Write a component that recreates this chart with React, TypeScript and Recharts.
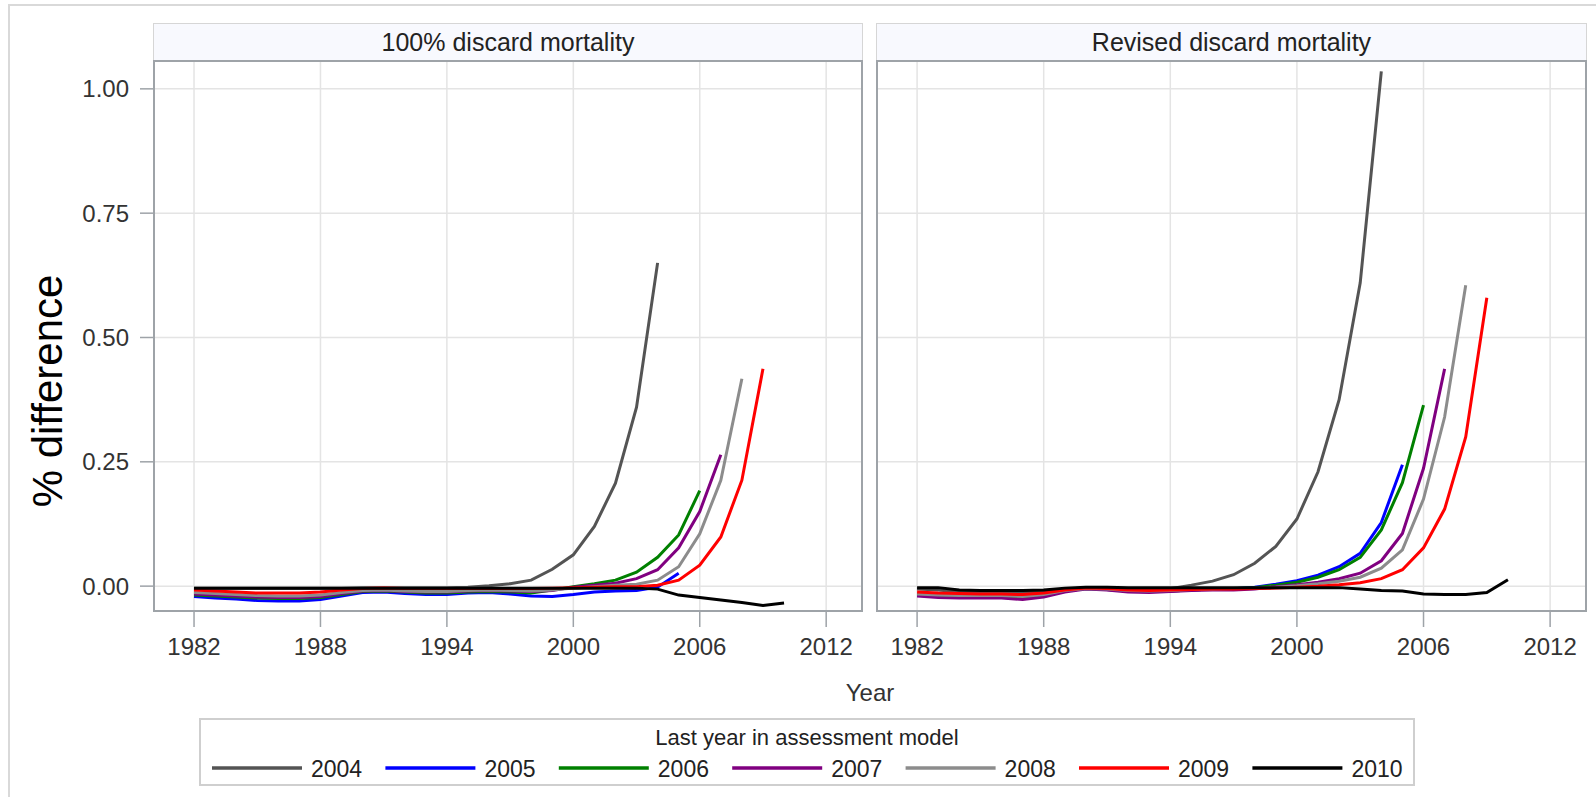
import { LineChart, Line, XAxis, YAxis, CartesianGrid } from 'recharts'

const FONT = '"Liberation Sans", Arial, Helvetica, sans-serif'

// x categories: model years
const years = [
  1982, 1983, 1984, 1985, 1986, 1987, 1988, 1989, 1990, 1991,
  1992, 1993, 1994, 1995, 1996, 1997, 1998, 1999, 2000, 2001,
  2002, 2003, 2004, 2005, 2006, 2007, 2008, 2009, 2010,
]

// series = last year in assessment model
const seriesNames = ['2004', '2005', '2006', '2007', '2008', '2009', '2010']
const seriesColors = ['#545454', '#0000ff', '#008000', '#800080', '#8c8c8c', '#ff0000', '#000000']

const xTicks = [1982, 1988, 1994, 2000, 2006, 2012]
const yTicks = [0, 0.25, 0.5, 0.75, 1.0]

// panel 1: 100% discard mortality
const full2004 = [
  -0.004, -0.004, -0.004, -0.004, -0.004, -0.004, -0.004, -0.004, -0.003, -0.003,
  -0.003, -0.003, -0.003, -0.002, 0.001, 0.005, 0.012, 0.034, 0.063, 0.12,
  0.207, 0.36, 0.65,
]
const full2005 = [
  -0.021, -0.024, -0.026, -0.029, -0.03, -0.03, -0.027, -0.02, -0.013, -0.012,
  -0.015, -0.017, -0.017, -0.014, -0.013, -0.016, -0.02, -0.021, -0.017, -0.012,
  -0.01, -0.009, -0.002, 0.026,
]
const full2006 = [
  -0.018, -0.02, -0.022, -0.024, -0.025, -0.025, -0.023, -0.017, -0.011, -0.01,
  -0.012, -0.014, -0.014, -0.012, -0.011, -0.012, -0.014, -0.008, -0.001, 0.005,
  0.012, 0.028, 0.058, 0.103, 0.192,
]
const full2007 = [
  -0.016, -0.018, -0.02, -0.022, -0.023, -0.023, -0.021, -0.015, -0.01, -0.009,
  -0.011, -0.012, -0.012, -0.01, -0.009, -0.01, -0.011, -0.009, -0.002, 0.002,
  0.006, 0.015, 0.033, 0.077, 0.15, 0.264,
]
const full2008 = [
  -0.013, -0.015, -0.017, -0.019, -0.02, -0.02, -0.018, -0.013, -0.009, -0.008,
  -0.01, -0.011, -0.011, -0.009, -0.008, -0.009, -0.01, -0.008, -0.004, -0.001,
  0.002, 0.004, 0.012, 0.039, 0.105, 0.213, 0.417,
]
const full2009 = [
  -0.008, -0.01, -0.012, -0.014, -0.014, -0.014, -0.012, -0.008, -0.005, -0.004,
  -0.005, -0.005, -0.005, -0.005, -0.005, -0.005, -0.005, -0.004, -0.003, -0.002,
  -0.001, -0.001, 0.002, 0.012, 0.042, 0.099, 0.213, 0.437,
]
const full2010 = [
  -0.004, -0.004, -0.004, -0.004, -0.004, -0.004, -0.004, -0.004, -0.004, -0.004,
  -0.004, -0.004, -0.004, -0.004, -0.004, -0.004, -0.004, -0.004, -0.004, -0.004,
  -0.004, -0.004, -0.006, -0.018, -0.023, -0.028, -0.033, -0.039, -0.034,
]

// panel 2: revised discard mortality
const rev2004 = [
  -0.006, -0.008, -0.012, -0.012, -0.012, -0.012, -0.011, -0.006, -0.004, -0.005,
  -0.007, -0.007, -0.005, 0.002, 0.01, 0.023, 0.046, 0.08, 0.135, 0.23,
  0.375, 0.61, 1.035,
]
const rev2005 = [
  -0.018, -0.021, -0.022, -0.022, -0.022, -0.023, -0.019, -0.01, -0.005, -0.007,
  -0.01, -0.011, -0.01, -0.008, -0.006, -0.005, -0.002, 0.004, 0.011, 0.022,
  0.039, 0.066, 0.128, 0.244,
]
const rev2006 = [
  -0.017, -0.02, -0.021, -0.021, -0.021, -0.022, -0.018, -0.01, -0.005, -0.007,
  -0.01, -0.011, -0.01, -0.008, -0.006, -0.005, -0.003, 0.002, 0.008, 0.018,
  0.033, 0.058, 0.113, 0.208, 0.364,
]
const rev2007 = [
  -0.02, -0.023, -0.024, -0.024, -0.024, -0.027, -0.022, -0.012, -0.006, -0.008,
  -0.012, -0.013, -0.011, -0.009, -0.008, -0.008, -0.006, -0.001, 0.003, 0.008,
  0.015, 0.026, 0.051, 0.106, 0.237, 0.437,
]
const rev2008 = [
  -0.016, -0.018, -0.019, -0.019, -0.019, -0.021, -0.017, -0.009, -0.005, -0.006,
  -0.009, -0.01, -0.009, -0.007, -0.006, -0.005, -0.004, -0.002, 0.001, 0.005,
  0.01, 0.018, 0.036, 0.073, 0.175, 0.34, 0.605,
]
const rev2009 = [
  -0.012, -0.014, -0.015, -0.016, -0.016, -0.017, -0.014, -0.008, -0.004, -0.005,
  -0.008, -0.009, -0.008, -0.007, -0.006, -0.006, -0.005, -0.004, -0.002, 0,
  0.003, 0.007, 0.015, 0.033, 0.077, 0.155, 0.3, 0.58,
]
const rev2010 = [
  -0.003, -0.003, -0.008, -0.009, -0.009, -0.009, -0.008, -0.004, -0.002, -0.002,
  -0.003, -0.003, -0.003, -0.003, -0.003, -0.003, -0.003, -0.003, -0.003, -0.003,
  -0.003, -0.006, -0.009, -0.01, -0.016, -0.017, -0.017, -0.013, 0.013,
]

function buildRows(series: number[][]) {
  return years.map((year, i) => {
    const row: Record<string, number> = { year }
    series.forEach((vals, s) => {
      if (i < vals.length) row['y' + seriesNames[s]] = vals[i]
    })
    return row
  })
}

const fullRows = buildRows([full2004, full2005, full2006, full2007, full2008, full2009, full2010])
const revRows = buildRows([rev2004, rev2005, rev2006, rev2007, rev2008, rev2009, rev2010])

const AXIS_GREY = '#9ea3a8'
const GRID = '#e4e4e4'
const TOP = 61
const BOTTOM = 611

interface PanelProps {
  rows: Record<string, number>[]
  left: number
  width: number
  marginLeft: number
  showY: boolean
}

function Panel({ rows, left, width, marginLeft, showY }: PanelProps) {
  return (
    <div style={{ position: 'absolute', left, top: 0 }}>
      <LineChart
        width={width}
        height={700}
        data={rows}
        margin={{ top: TOP, right: 8, bottom: 39, left: marginLeft }}
      >
        <CartesianGrid stroke={GRID} strokeWidth={1.5} />
        <XAxis
          dataKey="year"
          type="number"
          domain={[1980.1, 2013.7]}
          ticks={xTicks}
          allowDataOverflow
          height={50}
          tickSize={16}
          tickMargin={11}
          axisLine={false}
          tickLine={{ stroke: AXIS_GREY, strokeWidth: 1.5 }}
          tick={{ fontSize: 24, fill: '#333', fontFamily: FONT }}
        />
        <YAxis
          type="number"
          domain={[-0.05, 1.056]}
          ticks={yTicks}
          allowDataOverflow
          hide={!showY}
          width={154}
          tickSize={14}
          tickMargin={11}
          axisLine={false}
          tickLine={{ stroke: AXIS_GREY, strokeWidth: 1.5 }}
          tick={{ fontSize: 24, fill: '#333', fontFamily: FONT }}
          tickFormatter={(v) => (v as number).toFixed(2)}
        />
        {seriesNames.map((name, i) => (
          <Line
            key={name}
            type="linear"
            dataKey={'y' + name}
            stroke={seriesColors[i]}
            strokeWidth={3}
            dot={false}
            isAnimationActive={false}
          />
        ))}
      </LineChart>
    </div>
  )
}

function PanelFrame({ x, w, title }: { x: number; w: number; title: string }) {
  return (
    <>
      <div
        style={{
          position: 'absolute', left: x - 1, top: 23, width: w + 2, height: TOP - 23,
          boxSizing: 'border-box', background: '#f8f9fe',
          borderTop: '1.5px solid #d6d6d6', borderLeft: '1.5px solid #d6d6d6', borderRight: '1.5px solid #d6d6d6',
          textAlign: 'center', fontFamily: FONT, fontSize: 25, color: '#222', lineHeight: '37px',
        }}
      >
        {title}
      </div>
      <div
        style={{
          position: 'absolute', left: x - 1, top: TOP - 1, width: w + 2, height: BOTTOM - TOP + 2,
          boxSizing: 'border-box', border: `2px solid ${AXIS_GREY}`, pointerEvents: 'none',
        }}
      />
    </>
  )
}

export default function App() {
  const legendX0 = 212
  const legendStep = 173.4
  return (
    <div style={{ position: 'absolute', left: 0, top: 0, width: 1596, height: 797, background: '#fff', overflow: 'hidden' }}>
      <div style={{ position: 'absolute', left: 8, top: 4, width: 1700, height: 900, borderTop: '2px solid #d9d9d9', borderLeft: '2px solid #d9d9d9' }} />
      <Panel rows={fullRows} left={0} width={870} marginLeft={0} showY />
      <Panel rows={revRows} left={870} width={724} marginLeft={7} showY={false} />
      <PanelFrame x={154} w={708} title="100% discard mortality" />
      <PanelFrame x={877} w={709} title="Revised discard mortality" />
      <svg width={1596} height={797} style={{ position: 'absolute', left: 0, top: 0, pointerEvents: 'none' }}>
        <text
          transform="translate(62,391) rotate(-90)"
          textAnchor="middle"
          fontFamily={FONT}
          fontSize={42}
          fill="#000"
        >
          % difference
        </text>
        <text x={870} y={701} textAnchor="middle" fontFamily={FONT} fontSize={24} fill="#333">
          Year
        </text>
        <rect x={200} y={719} width={1214} height={66} fill="#fff" stroke="#cfcfcf" strokeWidth={2} />
        <text x={807} y={745} textAnchor="middle" fontFamily={FONT} fontSize={22} fill="#222">
          Last year in assessment model
        </text>
        {seriesNames.map((name, i) => {
          const lx = legendX0 + i * legendStep
          return (
            <g key={name}>
              <line x1={lx} x2={lx + 90} y1={768} y2={768} stroke={seriesColors[i]} strokeWidth={3.5} />
              <text x={lx + 99} y={776.5} fontFamily={FONT} fontSize={23} fill="#222">
                {name}
              </text>
            </g>
          )
        })}
      </svg>
    </div>
  )
}
